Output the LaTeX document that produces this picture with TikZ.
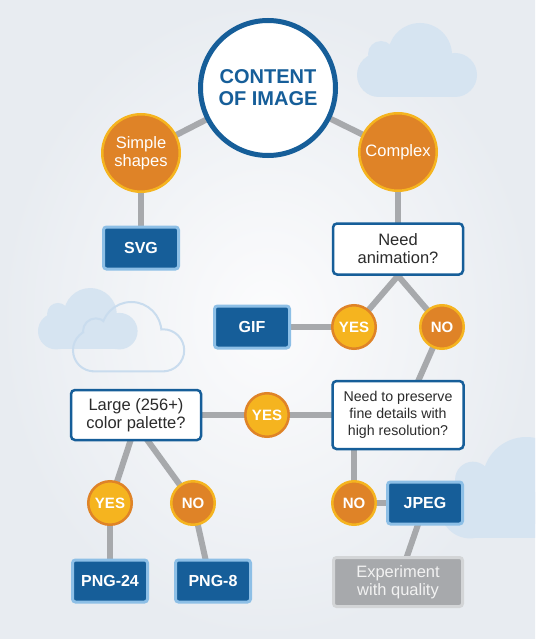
\documentclass[tikz,border=0pt]{standalone}
\usepackage{fontspec}
\setmainfont{Liberation Sans}
\pgfdeclarelayer{back}
\pgfdeclarelayer{edges}
\pgfsetlayers{back,edges,main}
\definecolor{dblue}{HTML}{165E99}
\definecolor{lblue}{HTML}{8DBFE6}
\definecolor{orng}{HTML}{DF8327}
\definecolor{yelw}{HTML}{F5B41F}
\definecolor{lgray}{HTML}{A7A9AC}
\definecolor{gborder}{HTML}{D3D5D7}
\definecolor{cloudfill}{HTML}{D6E4F1}
\definecolor{cloudline}{HTML}{C9DCEE}
\definecolor{txtdark}{HTML}{2B2B2B}
\definecolor{bgout}{HTML}{E8ECF1}
\definecolor{bgin}{HTML}{FCFCFD}
\newcommand{\mycloudfill}{%
  \fill[cloudfill] (22,52) circle (22);
  \fill[cloudfill] (24,31) circle (13);
  \fill[cloudfill] (63,32) circle (32);
  \fill[cloudfill] (98,52) circle (22);
  \fill[cloudfill] (22,40) rectangle (98,74);}
\tikzset{
  cloudshape/.style={insert path={(22,52) circle (22) (24,31) circle (13) (63,32) circle (32) (98,52) circle (22) (22,40) rectangle (98,74)}},
  conn/.style={draw=lgray, line width=6pt},
  maincirc/.style={circle, draw=dblue, line width=5pt, fill=white, minimum size=135pt, inner sep=0pt,
    text=dblue, font=\bfseries\fontsize{20}{22}\selectfont, align=center},
  ocirc/.style={circle, draw=yelw, line width=2.5pt, fill=orng, minimum size=77.5pt, inner sep=0pt,
    text=white, font=\fontsize{16.5}{18}\selectfont, align=center},
  ycirc/.style={circle, draw=orng, line width=2.5pt, fill=yelw, minimum size=43.5pt, inner sep=0pt,
    text=white, font=\bfseries\fontsize{15}{17}\selectfont},
  ncirc/.style={circle, draw=yelw, line width=2.5pt, fill=orng, minimum size=43.5pt, inner sep=0pt,
    text=white, font=\bfseries\fontsize{15}{17}\selectfont},
  bbox/.style={rectangle, rounded corners=3pt, draw=lblue, line width=3pt, fill=dblue, minimum width=75pt,
    minimum height=42pt, inner sep=0pt, text=white, font=\bfseries\fontsize{16}{18}\selectfont},
  qbox/.style={rectangle, rounded corners=4pt, draw=dblue, line width=2.5pt, fill=white, inner sep=0pt,
    text=txtdark, align=center, font=\fontsize{16.5}{18}\selectfont},
  gbox/.style={rectangle, rounded corners=3pt, draw=gborder, line width=3pt, fill=lgray, inner sep=0pt,
    text=white!95!black, align=center, font=\fontsize{16.5}{18}\selectfont}
}
\begin{document}
\begin{tikzpicture}[x=1pt, y=-1pt]
\useasboundingbox (0,0) rectangle (535,639);
\begin{pgfonlayer}{back}
  \shade[inner color=bgin, outer color=bgout] (0,0) rectangle (535,639);
  \begin{scope}
    \clip (0,0) rectangle (535,639);
    % top right cloud
    \begin{scope}[shift={(357,23)}]
      \mycloudfill
    \end{scope}
    % left filled cloud
    \begin{scope}[shift={(38,288)}, scale=0.83]
      \mycloudfill
    \end{scope}
    % bottom right cloud
    \begin{scope}[shift={(440,437)}, scale=1.37]
      \mycloudfill
    \end{scope}
    % left outline cloud
    \begin{scope}[shift={(74,303)}, scale=0.91, even odd rule]
      \clip (-300,-300) rectangle (400,400) (22,52) circle (22);
      \clip (-300,-300) rectangle (400,400) (24,31) circle (13);
      \clip (-300,-300) rectangle (400,400) (63,32) circle (32);
      \clip (-300,-300) rectangle (400,400) (98,52) circle (22);
      \clip (-300,-300) rectangle (400,400) (22,40) rectangle (98,74);
      \draw[cloudline, line width=4pt, cloudshape];
    \end{scope}
  \end{scope}
\end{pgfonlayer}

\node[maincirc] (main) at (268,88) {CONTENT\\OF IMAGE};
\node[ocirc] (simple) at (141,153) {Simple\\shapes};
\node[ocirc] (complex) at (398,152) {Complex};
\node[bbox] (svg) at (141,248) {SVG};
\node[qbox, minimum width=130pt, minimum height=51pt] (anim) at (398,249) {Need\\animation?};
\node[bbox] (gif) at (252,327) {GIF};
\node[ycirc] (yes1) at (354,327) {YES};
\node[ncirc] (no1) at (442,327) {NO};
\node[qbox, minimum width=131pt, minimum height=68pt, font=\fontsize{14.2}{17}\selectfont] (pres) at (398,415) {Need to preserve\\fine details with\\high resolution?};
\node[qbox, minimum width=130pt, minimum height=50pt] (pal) at (136,415) {Large (256+)\\color palette?};
\node[ycirc] (yes2) at (267,415) {YES};
\node[ycirc] (yes3) at (110,503) {YES};
\node[ncirc] (no3) at (193,503) {NO};
\node[bbox] (png24) at (110,581) {PNG-24};
\node[bbox] (png8) at (213,581) {PNG-8};
\node[ncirc] (no2) at (354,503) {NO};
\node[bbox] (jpeg) at (425,503) {JPEG};
\node[gbox, minimum width=129pt, minimum height=49pt] (exp) at (398,582) {Experiment\\with quality};

\coordinate (p1) at (412,395);
\coordinate (pa) at (134,430);
\coordinate (pb) at (140,430);
\coordinate (p8) at (209,575);
\coordinate (j1) at (423,510);
\coordinate (e1) at (404,565);

\begin{pgfonlayer}{edges}
  \draw[conn] (main.center) -- (simple.center);
  \draw[conn] (main.center) -- (complex.center);
  \draw[conn] (simple.center) -- (svg.center);
  \draw[conn] (complex.center) -- (anim.center);
  \draw[conn] (yes1.center) -- (anim.south) -- (no1.center);
  \draw[conn] (gif.center) -- (yes1.center);
  \draw[conn] (no1.center) -- (p1);
  \draw[conn] (pal.center) -- (yes2.center) -- (pres.center);
  \draw[conn] (pa) -- (yes3.center);
  \draw[conn] (pb) -- (no3.center);
  \draw[conn] (yes3.center) -- (png24.center);
  \draw[conn] (no3.center) -- (p8);
  \draw[conn] (pres.center) -- (pres.center -| no2.center) -- (no2.center);
  \draw[conn] (no2.center) -- (jpeg.center);
  \draw[conn] (j1) -- (e1);
\end{pgfonlayer}
\end{tikzpicture}
\end{document}
